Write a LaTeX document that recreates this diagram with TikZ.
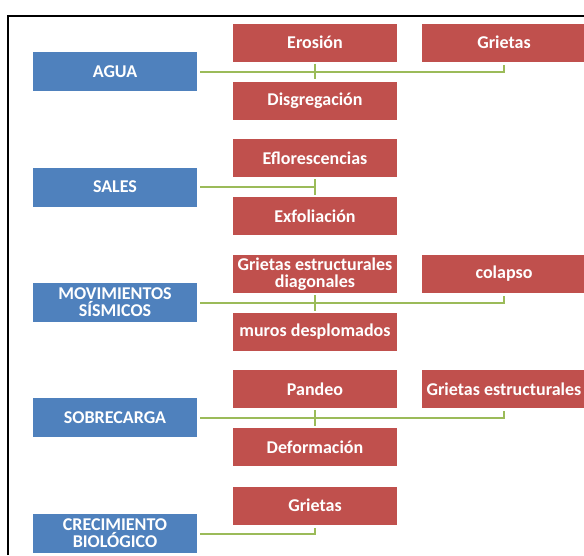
\documentclass[tikz,border=0pt]{standalone}
\usepackage{fontspec}
\setmainfont{Carlito}
\definecolor{causeblue}{HTML}{4F81BD}
\definecolor{effectred}{HTML}{C0504D}
\definecolor{linkgreen}{HTML}{9BBB59}
\begin{document}
\begin{tikzpicture}[%
    x = 1pt, y = -1pt,
    cause/.style = {rectangle, fill = causeblue, text = white, minimum width = 164pt, minimum height = 39pt, align = center, inner sep = 0pt, font = \fontsize{18}{17}\selectfont\bfseries},
    effect/.style = {cause, fill = effectred, minimum height = 38pt},
    link/.style = {draw = linkgreen, line width = 2pt},
    tick/.style = {link, shorten <= 2pt, shorten >= 2pt}]

    \useasboundingbox (0, 0) rectangle (584, 555);
    \draw[line width = 2pt] (7.5, 555) -- (7.5, 16) -- (584, 16);

    \node[cause] (agua) at (115, 71.5) {AGUA};
    \node[cause] (sales) at (115, 187) {SALES};
    \node[cause] (sismo) at (115, 302.5) {MOVIMIENTOS\\SÍSMICOS};
    \node[cause] (carga) at (115, 417.5) {SOBRECARGA};
    \node[cause] (bio) at (115, 533.5) {CRECIMIENTO\\BIOLÓGICO};

    \node[effect] (erosion) at (315, 42.5) {Erosión};
    \node[effect] (disgreg) at (315, 100.5) {Disgregación};
    \node[effect] (grietasA) at (504, 42.5) {Grietas};
    \node[effect] (eflor) at (315, 158) {Eflorescencias};
    \node[effect] (exfol) at (315, 216) {Exfoliación};
    \node[effect] (diag) at (315, 274) {Grietas estructurales\\diagonales};
    \node[effect] (muros) at (315, 332) {muros desplomados};
    \node[effect] (colapso) at (504, 274) {colapso};
    \node[effect] (pandeo) at (315, 389) {Pandeo};
    \node[effect] (deform) at (315, 447) {Deformación};
    \node[effect] (grietasC) at (504, 389) {Grietas estructurales};
    \node[effect] (grietasB) at (315, 505.5) {Grietas};

    \draw[link, shorten >= 3pt] ([xshift = 3pt]agua.east) -- (agua.east -| grietasA.south) -- (grietasA.south);
    \draw[tick] (erosion) -- (disgreg);
    \draw[link] ([xshift = 3pt]sales.east) -- (sales.east -| eflor.south);
    \draw[tick] (eflor) -- (exfol);
    \draw[link, shorten >= 3pt] ([xshift = 3pt]sismo.east) -- (sismo.east -| colapso.south) -- (colapso.south);
    \draw[tick] (diag) -- (muros);
    \draw[link, shorten >= 3pt] ([xshift = 3pt]carga.east) -- (carga.east -| grietasC.south) -- (grietasC.south);
    \draw[tick] (pandeo) -- (deform);
    \draw[link, shorten >= 3pt] ([xshift = 3pt]bio.east) -- (bio.east -| grietasB.south) -- (grietasB.south);
\end{tikzpicture}
\end{document}
